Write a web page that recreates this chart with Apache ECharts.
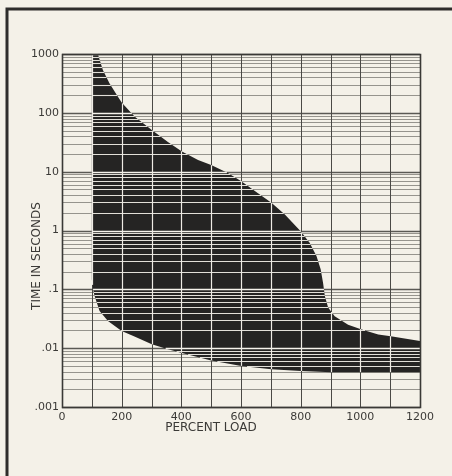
<!DOCTYPE html>
<html>
<head>
<meta charset="utf-8">
<script src="https://cdn.jsdelivr.net/npm/echarts@6/dist/echarts.min.js"></script>
<style>
  html, body { margin: 0; padding: 0; background: #f4f1e8; }
  #chart { width: 452px; height: 476px; }
</style>
</head>
<body>
<div id="chart"></div>
<script>
"use strict";

// upper edge of the band (percent load, seconds)
var upperX = [100, 120, 137, 159, 187, 200, 243, 301, 355, 402, 456, 500, 556, 601, 657, 702, 747, 800, 830, 853, 867, 875, 881, 892, 914, 959, 1002, 1060, 1102, 1200];
var upperY = [1000, 1000, 537, 318, 189, 150, 87, 51, 32, 22, 15.8, 13, 9.5, 6.9, 4.3, 2.96, 1.87, 0.97, 0.62, 0.37, 0.22, 0.13, 0.077, 0.049, 0.035, 0.025, 0.021, 0.017, 0.016, 0.0133];
// lower edge of the band
var lowerX = [100, 104, 109, 126, 154, 200, 243, 301, 355, 402, 500, 601, 702, 800, 903, 1200];
var lowerY = [0.148, 0.1, 0.078, 0.043, 0.029, 0.0195, 0.0158, 0.0117, 0.0096, 0.0083, 0.0062, 0.005, 0.0044, 0.0041, 0.0039, 0.0039];

var xTickLabels = ['0', '', '200', '', '400', '', '600', '', '800', '', '1000', '', '1200'];
var yTickLabels = ['.001', '.01', '.1', '1', '10', '100', '1000'];

var myChart = echarts.init(document.getElementById('chart'));

function px(v) {
  return Math.round(v) + 0.5;
}

// log grid: 1..9 in every decade
function hLines() {
  var out = [];
  for (var e = -3; e < 3; e++) {
    for (var n = 1; n < 10; n++) {
      out.push({ v: n * Math.pow(10, e), major: n === 1 });
    }
  }
  out.push({ v: 1000, major: true });
  return out;
}

function vLines() {
  var out = [];
  for (var x = 100; x < 1200; x += 100) out.push(x);
  return out;
}

function bandPoints(api) {
  var pts = [];
  var i;
  for (i = 0; i < upperX.length; i++) {
    pts.push(api.coord([upperX[i], upperY[i]]));
  }
  for (i = lowerX.length - 1; i >= 0; i--) {
    pts.push(api.coord([lowerX[i], lowerY[i]]));
  }
  return pts;
}

// where a line (horizontal: axis 1, vertical: axis 0) runs inside the band
function crossings(pts, axis, c) {
  var other = 1 - axis;
  var hits = [];
  for (var i = 0; i < pts.length; i++) {
    var p = pts[i];
    var q = pts[(i + 1) % pts.length];
    if ((p[axis] <= c && c < q[axis]) || (q[axis] <= c && c < p[axis])) {
      hits.push(p[other] + (c - p[axis]) * (q[other] - p[other]) / (q[axis] - p[axis]));
    }
  }
  hits.sort(function (a, b) { return a - b; });
  var segs = [];
  for (var j = 0; j + 1 < hits.length; j += 2) segs.push([hits[j], hits[j + 1]]);
  return segs;
}

function renderGrid(params, api) {
  var els = [];
  hLines().forEach(function (h) {
    var a = api.coord([0, h.v]);
    var b = api.coord([1200, h.v]);
    var y = px(a[1]);
    els.push({
      type: 'line',
      shape: { x1: a[0], y1: y, x2: b[0], y2: y },
      style: { stroke: h.major ? '#5a5954' : '#96948d', lineWidth: h.major ? 1.3 : 1 }
    });
  });
  vLines().forEach(function (v) {
    var a = api.coord([v, 1000]);
    var b = api.coord([v, 0.001]);
    var x = px(a[0]);
    els.push({
      type: 'line',
      shape: { x1: x, y1: a[1], x2: x, y2: b[1] },
      style: { stroke: '#4a4945', lineWidth: 1 }
    });
  });
  return { type: 'group', children: els };
}

function renderBand(params, api) {
  return {
    type: 'polygon',
    shape: { points: bandPoints(api) },
    style: { fill: '#252423' }
  };
}

// grid lines show light where they cross the band
function renderLight(params, api) {
  var pts = bandPoints(api);
  var els = [];
  hLines().forEach(function (h) {
    var y = px(api.coord([0, h.v])[1]);
    crossings(pts, 1, y).forEach(function (s) {
      els.push({
        type: 'line',
        shape: { x1: s[0], y1: y, x2: s[1], y2: y },
        style: { stroke: h.major ? '#f6f3ec' : '#e2dfd8', lineWidth: h.major ? 1.5 : 1.1 }
      });
    });
  });
  vLines().forEach(function (v) {
    var x = px(api.coord([v, 1])[0]);
    crossings(pts, 0, x).forEach(function (s) {
      els.push({
        type: 'line',
        shape: { x1: x, y1: s[0], x2: x, y2: s[1] },
        style: { stroke: '#eeebe4', lineWidth: 1.2 }
      });
    });
  });
  var tl = api.coord([0, 1000]);
  var br = api.coord([1200, 0.001]);
  els.push({
    type: 'rect',
    shape: { x: px(tl[0]), y: px(tl[1]), width: Math.round(br[0] - tl[0]), height: Math.round(br[1] - tl[1]) },
    style: { fill: 'none', stroke: '#3a3936', lineWidth: 1.6 }
  });
  return { type: 'group', children: els };
}

var option = {
  backgroundColor: '#f4f1e8',
  animation: false,
  grid: {
    left: 62,
    right: 32,
    top: 54,
    bottom: 69
  },
  xAxis: {
    type: 'value',
    min: 0,
    max: 1200,
    interval: 100,
    axisLine: { show: false },
    axisTick: { show: false },
    splitLine: { show: false },
    axisLabel: {
      margin: 5,
      color: '#3b3a37',
      fontFamily: 'DejaVu Sans',
      fontSize: 11,
      formatter: function (v) {
        return xTickLabels[Math.round(v / 100)];
      }
    }
  },
  yAxis: {
    type: 'log',
    logBase: 10,
    min: 0.001,
    max: 1000,
    interval: 1,
    axisLine: { show: false },
    axisTick: { show: false },
    splitLine: { show: false },
    axisLabel: {
      margin: 3,
      color: '#3b3a37',
      fontFamily: 'DejaVu Sans',
      fontSize: 11,
      formatter: function (v) {
        return yTickLabels[Math.round(Math.log10(v)) + 3];
      }
    }
  },
  graphic: [
    {
      type: 'polyline',
      shape: { points: [[7, 476], [7, 9], [452, 9]] },
      style: { stroke: '#2e2d2b', lineWidth: 3, fill: 'none' }
    },
    {
      type: 'text',
      x: 37,
      y: 256,
      rotation: Math.PI / 2,
      style: {
        text: 'TIME IN SECONDS',
        fill: '#3b3a37',
        font: '12px "DejaVu Sans"',
        align: 'center',
        verticalAlign: 'middle'
      }
    },
    {
      type: 'text',
      x: 211,
      y: 428,
      style: {
        text: 'PERCENT LOAD',
        fill: '#3b3a37',
        font: '12px "DejaVu Sans"',
        align: 'center',
        verticalAlign: 'middle'
      }
    }
  ],
  series: [
    { type: 'custom', name: 'grid', renderItem: renderGrid, clip: false, silent: true, data: [[600, 1]] },
    { type: 'custom', name: 'band', renderItem: renderBand, clip: false, data: [[600, 1]] },
    { type: 'custom', name: 'gridOnBand', renderItem: renderLight, clip: false, silent: true, data: [[600, 1]] }
  ]
};

myChart.setOption(option);
</script>
</body>
</html>
